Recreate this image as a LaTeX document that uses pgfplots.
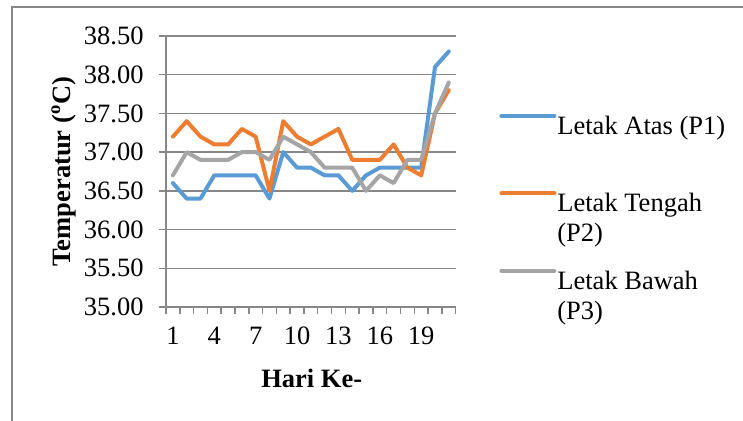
\documentclass[border=0pt]{standalone}
\usepackage{fontspec}
\setmainfont{Liberation Serif}
\usepackage{pgfplots}
\pgfplotsset{compat=1.18}
\definecolor{p1}{HTML}{5B9BD5}
\definecolor{p2}{HTML}{ED7D31}
\definecolor{p3}{HTML}{A5A5A5}
\definecolor{gridc}{HTML}{878787}
\begin{document}
\fontsize{13.25}{15}\selectfont
\begin{tikzpicture}
\useasboundingbox (-83pt,-57pt) rectangle (288.5pt,153.5pt);
\fill[white] (-83pt,-57pt) rectangle (288.5pt,153.5pt);
\draw[gridc, line width=0.75pt] (-77pt,-57pt) -- (-77pt,150pt) -- (288.5pt,150pt);
\begin{axis}[
  at={(0pt,0pt)}, anchor=south west,
  width=144.85pt, height=135.5pt, scale only axis,
  xmin=0.5, xmax=21.5, ymin=35, ymax=38.5,
  axis lines*=left,
  axis line style={gridc, line width=0.75pt, -},
  xtick={1,4,...,19},
  minor xtick={0.5,1.5,...,21.5},
  ytick={35,35.5,...,38.5},
  tick align=outside,
  major tick length=3.5pt, minor tick length=3.5pt,
  major x tick style={draw=none},
  every tick/.style={gridc, line width=0.75pt},
  minor x tick style={gridc, line width=0.75pt},
  ymajorgrids,
  grid style={gridc, line width=0.75pt},
  /pgf/number format/assume math mode=true,
  yticklabel style={/pgf/number format/fixed, /pgf/number format/fixed zerofill, /pgf/number format/precision=2, inner sep=0pt, xshift=-7.5pt},
  xticklabel style={anchor=base, inner sep=0pt, yshift=-15.5pt},
  ticklabel style={font=\fontsize{13.25}{15}\selectfont},
  xlabel={\textbf{Hari Ke-}},
  ylabel={\textbf{Temperatur (\textsuperscript{o}C)}},
  every axis x label/.style={at={(axis description cs:0.503,-0.2963)}, anchor=base, inner sep=0pt},
  every axis y label/.style={at={(axis description cs:-0.3297,0.5)}, anchor=base, rotate=90, inner sep=0pt},
  label style={font=\fontsize{13.25}{15}\selectfont},
  legend cell align=left,
  legend image code/.code={\draw[#1] (0pt,4.85pt) -- (26.5pt,4.85pt);},
  legend style={at={(axis description cs:1.1495,0.7247)}, anchor=north west,
    draw=none, fill=none, inner sep=0pt, row sep=24.3pt, column sep=-0.5pt,
    nodes={inner sep=1pt}, font=\fontsize{13.25}{15}\selectfont},
  every axis plot/.append style={line width=2pt, line join=round, line cap=round},
]
\addplot[p1] coordinates {(1,36.6)(2,36.4)(3,36.4)(4,36.7)(5,36.7)(6,36.7)(7,36.7)(8,36.4)(9,37.0)(10,36.8)(11,36.8)(12,36.7)(13,36.7)(14,36.5)(15,36.7)(16,36.8)(17,36.8)(18,36.8)(19,36.8)(20,38.1)(21,38.3)};
\addlegendentry{\begin{tabular}[t]{@{}l@{}}Letak Atas (P1)\\ \end{tabular}}
\addplot[p2] coordinates {(1,37.2)(2,37.4)(3,37.2)(4,37.1)(5,37.1)(6,37.3)(7,37.2)(8,36.5)(9,37.4)(10,37.2)(11,37.1)(12,37.2)(13,37.3)(14,36.9)(15,36.9)(16,36.9)(17,37.1)(18,36.8)(19,36.7)(20,37.5)(21,37.8)};
\addlegendentry{\begin{tabular}[t]{@{}l@{}}Letak Tengah\\(P2)\end{tabular}}
\addplot[p3] coordinates {(1,36.7)(2,37.0)(3,36.9)(4,36.9)(5,36.9)(6,37.0)(7,37.0)(8,36.9)(9,37.2)(10,37.1)(11,37.0)(12,36.8)(13,36.8)(14,36.8)(15,36.5)(16,36.7)(17,36.6)(18,36.9)(19,36.9)(20,37.5)(21,37.9)};
\addlegendentry{\begin{tabular}[t]{@{}l@{}}Letak Bawah\\(P3)\end{tabular}}
\end{axis}
\end{tikzpicture}
\end{document}
